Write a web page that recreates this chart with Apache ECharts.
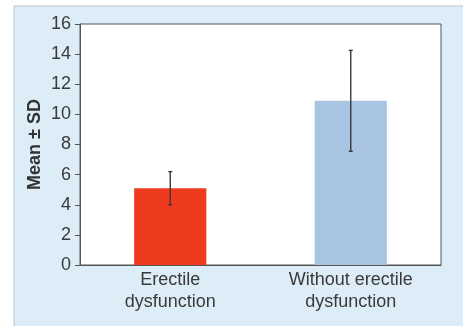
<!DOCTYPE html>
<html>
<head>
<meta charset="utf-8">
<script src="https://cdn.jsdelivr.net/npm/echarts@6/dist/echarts.min.js"></script>
<style>
  html, body { margin: 0; padding: 0; background: #fff; }
  #chart { width: 463px; height: 326px; }
</style>
</head>
<body>
<div id="chart"></div>
<script>
// data
const categories = ["Erectile\ndysfunction", "Without erectile\ndysfunction"];
const means = [5.1, 10.9];
const sds = [1.1, 3.35];
const barColors = ["#ee3b1f", "#a9c5e3"];
const yTicks = { min: 0, max: 16, interval: 2 };

const chart = echarts.init(document.getElementById("chart"));

const option = {
  animation: false,
  textStyle: { fontFamily: "Liberation Sans, Arial, sans-serif" },
  graphic: [
    {
      type: "rect",
      z: -10,
      silent: true,
      shape: { x: 14, y: 6, width: 460, height: 330 },
      style: { fill: "#dcedf8", stroke: "#b9c6cf", lineWidth: 1 }
    }
  ],
  grid: {
    left: 80,
    right: 22,
    top: 24,
    bottom: 61,
    show: true,
    backgroundColor: "#fff",
    borderColor: "#555",
    borderWidth: 1
  },
  xAxis: {
    type: "category",
    data: categories,
    axisLine: { lineStyle: { color: "#555" } },
    axisTick: { show: false },
    axisLabel: { fontSize: 18, color: "#3a3a3a", lineHeight: 22, margin: 4 }
  },
  yAxis: {
    type: "value",
    min: yTicks.min,
    max: yTicks.max,
    interval: yTicks.interval,
    name: "Mean ± SD",
    nameLocation: "middle",
    nameGap: 36,
    nameMoveOverlap: false,
    nameTextStyle: { fontSize: 18, fontWeight: "bold", color: "#333" },
    axisLine: { show: true, lineStyle: { color: "#555" } },
    axisTick: { show: true, length: 5, lineStyle: { color: "#555" } },
    axisLabel: { fontSize: 18, color: "#3a3a3a", margin: 9 },
    splitLine: { show: false }
  },
  series: [
    {
      type: "bar",
      barWidth: "40%",
      data: means.map((v, i) => ({ value: v, itemStyle: { color: barColors[i] } }))
    },
    {
      // error bars
      type: "custom",
      z: 5,
      data: means.map((m, i) => [i, m - sds[i], m + sds[i]]),
      renderItem: function (params, api) {
        const lo = api.coord([api.value(0), api.value(1)]);
        const hi = api.coord([api.value(0), api.value(2)]);
        const cap = 2;
        const style = { stroke: "#3a3a3a", lineWidth: 1.4 };
        return {
          type: "group",
          children: [
            { type: "line", shape: { x1: hi[0], y1: hi[1], x2: lo[0], y2: lo[1] }, style: style },
            { type: "line", shape: { x1: hi[0] - cap, y1: hi[1], x2: hi[0] + cap, y2: hi[1] }, style: style },
            { type: "line", shape: { x1: lo[0] - cap, y1: lo[1], x2: lo[0] + cap, y2: lo[1] }, style: style }
          ]
        };
      }
    }
  ]
};

chart.setOption(option);
</script>
</body>
</html>
